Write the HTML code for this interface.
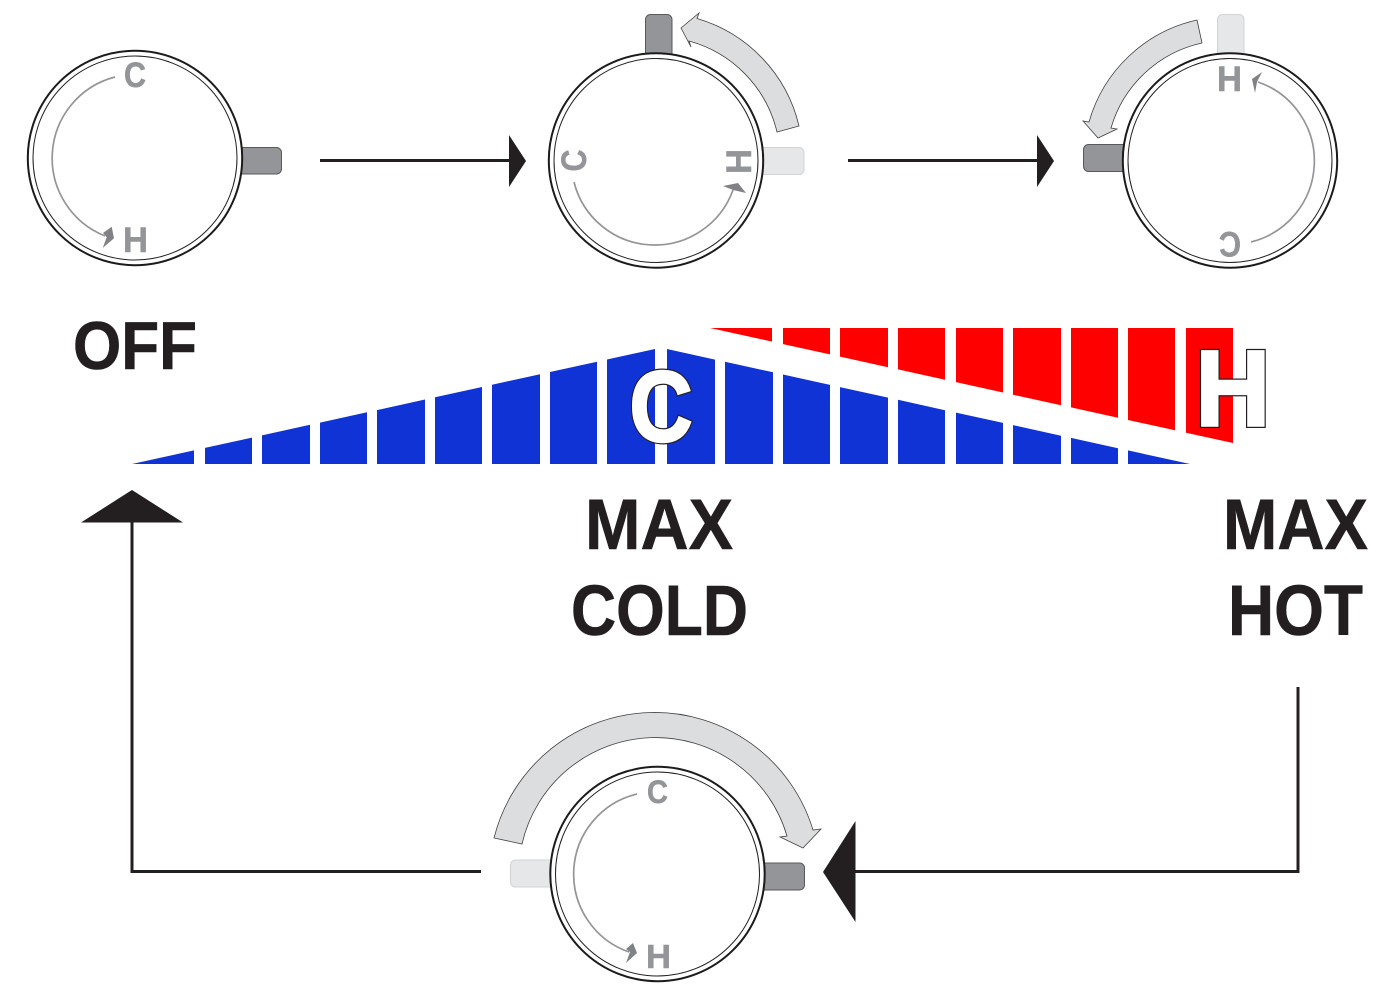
<!DOCTYPE html>
<html><head><meta charset="utf-8"><style>
html,body{margin:0;padding:0;background:#fff}
svg{display:block}
text{font-family:"Liberation Sans",sans-serif;font-weight:bold}
.t{fill:#231f20}
text.t{stroke:#231f20;stroke-width:.6}
.g{fill:#939598;stroke:#939598;stroke-width:.5}
.o{fill:#fff;stroke:#1c1a1b;stroke-width:2}
.i{fill:none;stroke:#231f20;stroke-width:1}
.a{fill:none;stroke:#939598;stroke-width:1.7}
.ah{fill:#808285}
.b{fill:#dcddde;stroke:#414042;stroke-width:.8}
.dk{fill:#939598;stroke:#58595b;stroke-width:1}
.lt{fill:#e6e7e8;stroke:#d1d3d4;stroke-width:1}
.l{fill:none;stroke:#231f20;stroke-width:3}
</style></head><body>
<svg width="1400" height="992" viewBox="0 0 1400 992" xmlns="http://www.w3.org/2000/svg">
<rect width="1400" height="992" fill="#fff"/>

<!-- Dial 1 -->
<rect class="dk" x="232" y="147.500" width="49.500" height="26.500" rx="5"/>
<circle cx="135" cy="158" r="107.200" class="o"/>
<circle cx="135" cy="158" r="102" class="i"/>
<path class="a" d="M115 77A83.800 83.800 0 0 0 105 236"/>
<polygon class="ah" points="111.700,226.700 114,238.300 102.700,248 106.700,237.300 103,233"/>
<text class="g" x="124" y="87" font-size="35" textLength="22" lengthAdjust="spacingAndGlyphs">C</text>
<text class="g" x="123" y="252" font-size="35" textLength="25" lengthAdjust="spacingAndGlyphs">H</text>

<!-- Dial 2 -->
<rect class="dk" x="645.500" y="14.500" width="26.500" height="50" rx="5"/>
<rect class="lt" x="745" y="147.500" width="59" height="27" rx="5"/>
<circle cx="656" cy="160.500" r="107.200" class="o"/>
<circle cx="656" cy="160.500" r="102" class="i"/>
<path class="a" d="M574 182A83.200 83.200 0 0 0 733 190"/>
<polygon class="ah" points="723,186 738,183 746,193 733,190"/>
<text class="g" transform="translate(586,171.500) rotate(-90)" x="0" y="0" font-size="35" textLength="22" lengthAdjust="spacingAndGlyphs">C</text>
<text class="g" transform="translate(751,174) rotate(-90)" x="0" y="0" font-size="35" textLength="25" lengthAdjust="spacingAndGlyphs">H</text>
<path class="b" d="M681 28L699 13L697 18.500A147 147 0 0 1 799 126L777 132A124 124 0 0 0 689 41L691 47Z"/>

<!-- Dial 3 -->
<rect class="lt" x="1217.500" y="14.500" width="26.500" height="50" rx="5"/>
<rect class="dk" x="1083.500" y="144.500" width="50" height="27" rx="5"/>
<circle cx="1230" cy="160.500" r="107.200" class="o"/>
<circle cx="1230" cy="160.500" r="102" class="i"/>
<path class="a" d="M1251 242A83.500 83.500 0 0 0 1258 82"/>
<polygon class="ah" points="1262,72 1252,79 1255,93 1257,82"/>
<text class="g" transform="translate(1241,232) rotate(180)" x="0" y="0" font-size="35" textLength="22" lengthAdjust="spacingAndGlyphs">C</text>
<text class="g" x="1217" y="91" font-size="35" textLength="25" lengthAdjust="spacingAndGlyphs">H</text>
<path class="b" d="M1197 20L1202 43A122 122 0 0 0 1111 128L1117 129L1098 138L1083 121L1089 122A145 145 0 0 1 1197 20Z"/>

<!-- Flow lines -->
<path class="l" d="M320 160.500H512"/>
<polygon class="t" points="509,135 509,187 526,161"/>
<path class="l" d="M848 160.500H1040"/>
<polygon class="t" points="1037,135 1037,187 1054,161"/>
<path class="l" d="M481 871.500H132V515"/>
<polygon class="t" points="81,522.500 183,522.500 132,490"/>
<path class="l" d="M1298 687V871.500H850"/>
<polygon class="t" points="855.500,821 855.500,922 823,872"/>

<!-- Blue bars -->
<g fill="#1033d6">
<polygon points="132,464 194,450.400 194,464"/>
<polygon points="205,447.900 252,437.600 252,464 205,464"/>
<polygon points="262,435.400 310,424.800 310,464 262,464"/>
<polygon points="320,422.600 367,412.300 367,464 320,464"/>
<polygon points="377,410.100 425,399.500 425,464 377,464"/>
<polygon points="435,397.300 482,387 482,464 435,464"/>
<polygon points="492,384.800 540,374.200 540,464 492,464"/>
<polygon points="550,372 597,361.700 597,464 550,464"/>
<polygon points="607,359.500 655,349 655,464 607,464"/>
<polygon points="667,349 715,359.600 715,464 667,464"/>
<polygon points="725,361.800 773,372.300 773,464 725,464"/>
<polygon points="783,374.500 830,384.900 830,464 783,464"/>
<polygon points="840,387.100 888,397.600 888,464 840,464"/>
<polygon points="898,399.800 945,410.200 945,464 898,464"/>
<polygon points="956,412.600 1003,422.900 1003,464 956,464"/>
<polygon points="1013,425.100 1061,435.700 1061,464 1013,464"/>
<polygon points="1071,437.900 1118,448.200 1118,464 1071,464"/>
<polygon points="1128,450.400 1190,464 1128,464"/>
</g>
<!-- Red bars -->
<g fill="#ff0000">
<polygon points="710,328 772,328 772,341.600"/>
<polygon points="783,328 830,328 830,354.400 783,344.100"/>
<polygon points="840,328 888,328 888,367.200 840,356.600"/>
<polygon points="898,328 945,328 945,379.700 898,369.400"/>
<polygon points="956,328 1003,328 1003,392.500 956,382.100"/>
<polygon points="1013,328 1061,328 1061,405.200 1013,394.700"/>
<polygon points="1071,328 1118,328 1118,417.800 1071,407.400"/>
<polygon points="1128,328 1175,328 1175,430.300 1128,420"/>
<polygon points="1186,328 1233,328 1233,443 1186,432.700"/>
</g>
<text x="629.500" y="441" font-size="100" textLength="63" lengthAdjust="spacingAndGlyphs" fill="#231f20" stroke="#231f20" stroke-width="5">C</text>
<text x="629.500" y="441" font-size="100" textLength="63" lengthAdjust="spacingAndGlyphs" fill="#fff" stroke="#fff" stroke-width="2.500" aria-hidden="true">C</text>
<text x="1195.400" y="425.500" font-size="108" textLength="75" lengthAdjust="spacingAndGlyphs" fill="#231f20" stroke="#231f20" stroke-width="5">H</text>
<text x="1195.400" y="425.500" font-size="108" textLength="75" lengthAdjust="spacingAndGlyphs" fill="#fff" stroke="#fff" stroke-width="2.500" aria-hidden="true">H</text>

<!-- Labels -->
<text class="t" x="73" y="369" font-size="68" textLength="124" lengthAdjust="spacingAndGlyphs">OFF</text>
<text class="t" x="585" y="549" font-size="71" textLength="148" lengthAdjust="spacingAndGlyphs">MAX</text>
<text class="t" x="571" y="635" font-size="71" textLength="177" lengthAdjust="spacingAndGlyphs">COLD</text>
<text class="t" x="1223" y="549" font-size="71" textLength="145" lengthAdjust="spacingAndGlyphs">MAX</text>
<text class="t" x="1228" y="635" font-size="71" textLength="135" lengthAdjust="spacingAndGlyphs">HOT</text>

<!-- Dial 4 -->
<rect class="lt" x="510.500" y="860" width="60" height="27" rx="5"/>
<rect class="dk" x="745" y="863" width="59.500" height="27" rx="5"/>
<circle cx="657.500" cy="874" r="107.200" class="o"/>
<circle cx="657.500" cy="874" r="102" class="i"/>
<path class="a" d="M637 794A82.400 82.400 0 0 0 629 952"/>
<polygon class="ah" points="633,943 637,953 626,963 630,952 626,949"/>
<text class="g" x="647" y="803" font-size="32" textLength="21" lengthAdjust="spacingAndGlyphs">C</text>
<text class="g" x="646" y="968" font-size="33" textLength="25" lengthAdjust="spacingAndGlyphs">H</text>
<path class="b" d="M494 838A165.500 165.500 0 0 1 813 830L821 829L803 848L780 837L787 836A137 137 0 0 0 522 844Z"/>
</svg>
</body></html>
